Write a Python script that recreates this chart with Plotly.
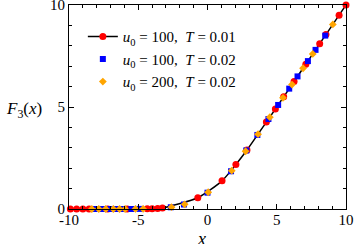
import plotly.graph_objects as go

# u0=100, T=0.01 (red, with line)
red_x = [-9.9, -9.45, -9.0, -8.55, -7.2, -5.8, -4.35, -4.0, -3.6, -3.25, -0.7, 1.05, 2.05, 2.85, 4.25, 4.9, 5.5, 6.25, 7.1, 8.1, 8.55, 9.5, 10.0]
red_y = [0, 0, 0, 0, 0, 0.003, 0.012, 0.017, 0.029, 0.045, 0.55, 1.38, 2.18, 2.89, 4.26, 4.9, 5.5, 6.25, 7.1, 8.1, 8.55, 9.5, 10.0]
# u0=100, T=0.02 (blue)
blue_x = [-8.15, -7.6, -7.0, -6.55, -6.15, -5.5, -4.9, -2.65, -1.7, 0.0, 1.7, 2.8, 3.6, 4.4, 5.1, 5.9, 6.5, 7.25, 7.8, 8.5]
blue_y = [0, 0, 0, 0, 0, 0.001, 0.006, 0.085, 0.22, 0.80, 1.85, 2.87, 3.63, 4.41, 5.1, 5.9, 6.5, 7.25, 7.8, 8.5]
# u0=200, T=0.02 (orange)
orange_x = [-8.35, -7.85, -7.35, -6.8, -6.35, -5.95, -5.2, -4.65, -2.6, -1.65, 0.05, 1.75, 2.75, 3.65, 4.5, 5.45, 6.1, 6.9, 7.6, 9.05]
orange_y = [0, 0, 0, 0, 0, 0, 0.003, 0.009, 0.09, 0.23, 0.82, 1.88, 2.83, 3.67, 4.5, 5.45, 6.1, 6.9, 7.6, 9.05]

x_ticks = [-10, -5, 0, 5, 10]
x_ticktext = ["-10", "-5", "0", "5", "10"]
y_ticks = [0, 5, 10]
y_ticktext = ["0", "5", "10"]

FONT = "Liberation Serif, serif"

fig = go.Figure()
fig.add_trace(go.Scatter(
    x=red_x, y=red_y, mode="lines+markers",
    line=dict(color="black", width=1.5, shape="spline", smoothing=0.6),
    marker=dict(color="#ff0000", size=7, symbol="circle"),
    name="<i>u</i><sub>0</sub> = 100,\u2002<i>T</i> = 0.01",
    cliponaxis=False,
))
fig.add_trace(go.Scatter(
    x=blue_x, y=blue_y, mode="markers",
    marker=dict(color="#0000ff", size=6, symbol="square"),
    name="<i>u</i><sub>0</sub> = 100,\u2002<i>T</i> = 0.02",
    cliponaxis=False,
))
fig.add_trace(go.Scatter(
    x=orange_x, y=orange_y, mode="markers",
    marker=dict(color="#ffa500", size=6, symbol="diamond"),
    name="<i>u</i><sub>0</sub> = 200,\u2002<i>T</i> = 0.02",
    cliponaxis=False,
))

axis_common = dict(
    showline=True, linecolor="black", linewidth=1, mirror="ticks",
    ticks="inside", ticklen=5, tickcolor="black", tickwidth=1,
    showgrid=False, zeroline=False, automargin=False,
    ticklabeloverflow="allow",
    tickfont=dict(family=FONT, size=15, color="black"),
    minor=dict(dtick=1, ticks="inside", ticklen=3, tickcolor="black", showgrid=False),
)

fig.update_xaxes(range=[-10, 10], tickvals=x_ticks, ticktext=x_ticktext, ticklabelstandoff=-3, **axis_common)
fig.update_yaxes(range=[0, 10], tickvals=y_ticks, ticktext=y_ticktext, **axis_common)

fig.add_annotation(text="<i>F</i><sub>3</sub>(<i>x</i>)", xref="paper", yref="paper",
                   x=-0.163, y=0.487, showarrow=False, xanchor="center", yanchor="middle",
                   font=dict(family=FONT, size=17, color="black"))
fig.add_annotation(text="<i>x</i>", xref="paper", yref="paper",
                   x=0.48, y=-0.145, showarrow=False, xanchor="center", yanchor="middle",
                   font=dict(family=FONT, size=18, color="black"))

fig.update_layout(
    width=354, height=244,
    margin=dict(l=69, r=8, t=5, b=35, autoexpand=False),
    paper_bgcolor="white", plot_bgcolor="white",
    font=dict(family=FONT, size=15, color="black"),
    showlegend=True,
    legend=dict(x=0.05, y=0.925, xanchor="left", yanchor="top",
                bgcolor="rgba(0,0,0,0)", font=dict(family=FONT, size=15, color="black"),
                itemwidth=30),
)

fig.write_html("out.html", config={"displayModeBar": False},
               post_script="document.body.style.margin='0';document.body.style.overflow='hidden';")
